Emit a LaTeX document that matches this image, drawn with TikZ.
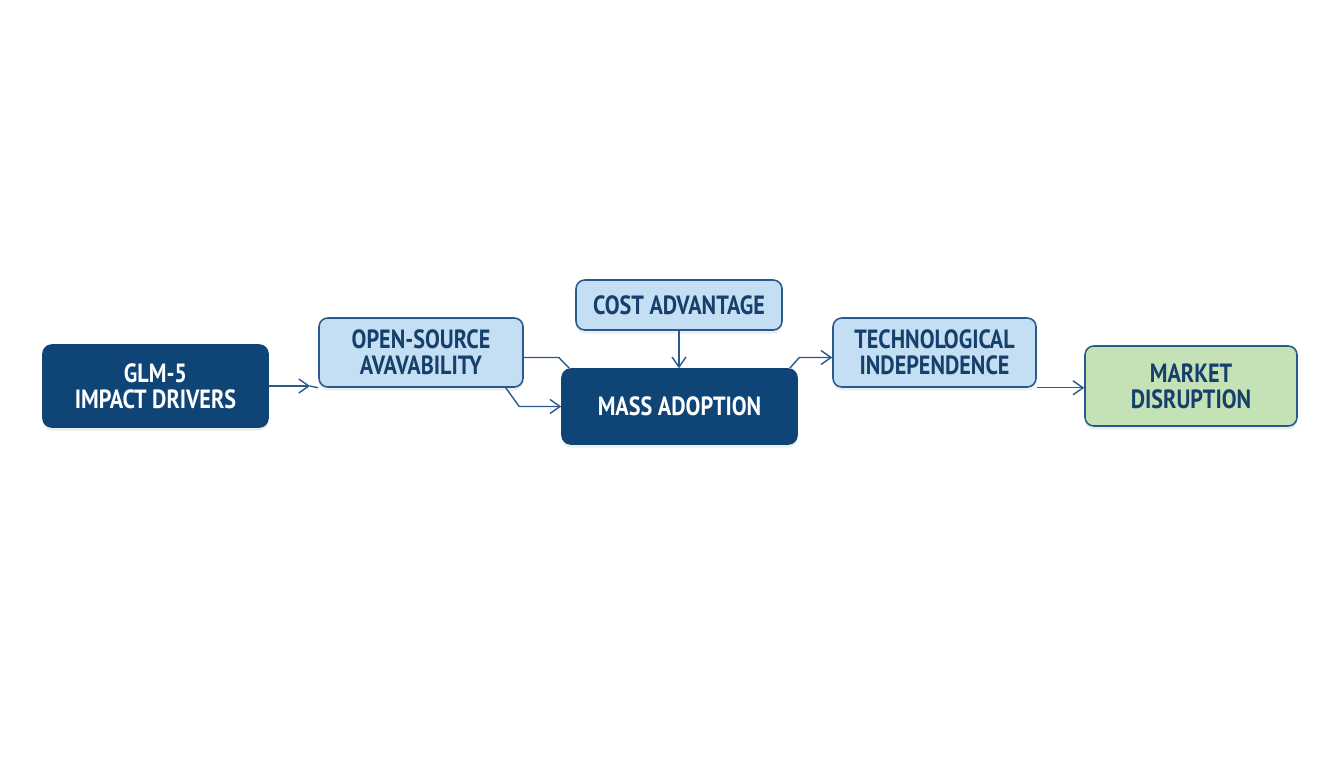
\documentclass[tikz,border=0pt]{standalone}
\usepackage{fontspec}
\setmainfont{PT Sans}[FakeStretch=0.84]
\usetikzlibrary{arrows.meta}
\usetikzlibrary{shadows}
\definecolor{navy}{HTML}{0F4476}
\definecolor{edge}{HTML}{2A5A8C}
\definecolor{pale}{HTML}{C4DEF3}
\definecolor{sage}{HTML}{C4E2B6}
\definecolor{ink}{HTML}{163F6C}
\tikzset{
  box/.style={rounded corners=5pt, draw=edge, line width=0.9pt, align=center,
    font=\fontsize{15}{14.8}\selectfont\bfseries, inner sep=0pt,
    drop shadow={opacity=0.14, shadow xshift=0pt, shadow yshift=-2pt}},
  darkbox/.style={box, fill=navy, draw=navy, text=white},
  lightbox/.style={box, fill=pale, text=ink},
  greenbox/.style={box, fill=sage, text=ink},
  link/.style={draw=edge, line width=0.8pt},
  >={Straight Barb[length=2mm,width=2.8mm]}
}

\begin{document}
\begin{tikzpicture}
    \useasboundingbox (0, 0) rectangle (26.88, -15.36);
    % drivers and factors
    \node [darkbox, minimum width=4.5cm, minimum height=1.64cm] (1) at (3.11, -7.72) {GLM-5\\IMPACT DRIVERS};
    \node [lightbox, minimum width=4.08cm, minimum height=1.38cm] (2) at (8.42, -7.05) {OPEN-SOURCE\\AVAVABILITY};
    \node [darkbox, minimum width=4.7cm, minimum height=1.5cm] (3) at (13.59, -8.13) {MASS ADOPTION};
    \node [lightbox, minimum width=4.12cm, minimum height=1cm] (4) at (13.58, -6.1) {COST ADVANTAGE};
    % outcomes
    \node [lightbox, minimum width=4.06cm, minimum height=1.38cm] (5) at (18.69, -7.05) {TECHNOLOGICAL\\INDEPENDENCE};
    \node [greenbox, minimum width=4.24cm, minimum height=1.6cm] (6) at (23.82, -7.72) {MARKET\\DISRUPTION};
    % connectors
    \coordinate (7) at (6.2, -7.72);
    \draw [link, ->] (1.east) to (7);
    \draw [link] (7) to (2.south west);
    \draw [link] ([yshift=-0.1cm]2.east) -- ++(0.7, 0) -- ([xshift=0.16cm]3.north west);
    \draw [link, ->] ([xshift=-0.36cm]2.south east) -- ([xshift=-0.84cm]3.west) -- (3.west);
    \draw [link, ->] (4.south) to (4.south |- 3.north);
    \draw [link, ->] ([xshift=-0.16cm]3.north east) -- ([xshift=-0.66cm, yshift=-0.1cm]5.west) -- ([yshift=-0.1cm]5.west);
    \draw [link, ->] (5.south east) to (5.south east -| 6.west);
\end{tikzpicture}
\end{document}
